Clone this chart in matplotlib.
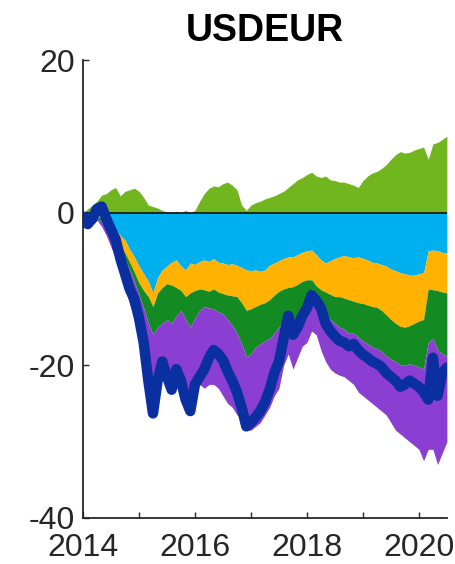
import numpy as np
import matplotlib
matplotlib.use("Agg")
import matplotlib.pyplot as plt

plt.rcParams['font.family'] = ['Liberation Sans', 'DejaVu Sans']
plt.rcParams['axes.unicode_minus'] = False

# monthly points, Jan 2014 .. Jul 2020
years = 2014 + np.arange(79) / 12.0

# positive contribution (top of green area)
green_top = [0.0, 0.5, 1.0, 1.5, 2.3, 2.5, 3.0, 3.3, 2.2, 2.8, 3.0, 3.2,
             2.8, 2.0, 1.0, 0.8, 0.6, 0.3, 0.1, 0.0, 0.2, 0.0, 0.3, 0.0,
             0.3, 1.5, 2.5, 3.2, 3.5, 3.4, 3.8, 4.0, 3.6, 3.0, 1.0, 0.3,
             1.0, 1.3, 1.5, 1.8, 2.0, 2.2, 2.5, 2.8, 3.3, 3.8, 4.3, 4.6,
             5.0, 5.3, 4.8, 4.6, 4.8, 4.3, 4.2, 4.0, 4.0, 3.8, 3.6, 3.3,
             4.2, 4.8, 5.2, 5.4, 5.8, 6.3, 7.0, 7.6, 8.0, 7.8, 7.9, 8.2,
             8.4, 8.6, 7.0, 9.0, 9.2, 9.6, 10.0]

# negative stack, lower edge of each band
cyan_lo = [-0.2, -0.4, -0.3, -0.2, -0.3, -1.0, -1.5, -2.2, -3.0, -3.6, -4.8, -5.8,
           -7.0, -8.0, -9.0, -10.5, -8.5, -7.5, -7.0, -6.5, -6.2, -7.0, -7.5, -6.6,
           -6.8, -6.4, -6.2, -6.4, -6.0, -6.5, -6.6, -6.8, -6.7, -6.9, -7.2, -7.5,
           -7.6, -7.5, -7.7, -7.5, -6.9, -6.6, -6.3, -6.0, -5.8, -5.8, -5.5, -5.2,
           -5.0, -4.9, -5.5, -6.2, -6.6, -6.3, -6.0, -5.8, -5.6, -5.8, -5.9, -5.8,
           -6.0, -6.2, -6.5, -6.6, -6.8, -7.0, -7.4, -7.6, -7.9, -8.0, -8.2, -8.2,
           -8.0, -7.9, -5.0, -4.9, -5.0, -5.2, -5.3]
orange_lo = [-0.4, -0.8, -0.6, -0.5, -0.7, -1.5, -2.2, -3.0, -4.2, -5.3, -6.5, -7.8,
             -9.2, -10.2, -11.0, -12.3, -10.5, -9.8, -9.3, -9.5, -9.8, -10.2, -11.0, -10.5,
             -10.2, -10.0, -10.1, -10.3, -10.0, -10.4, -10.6, -10.8, -10.9, -11.0, -11.8, -12.8,
             -12.6, -12.3, -12.0, -11.8, -11.4, -10.8, -10.3, -10.0, -9.8, -9.7, -9.4, -9.0,
             -8.8, -8.8, -9.6, -10.1, -10.4, -10.7, -11.0, -11.0, -11.2, -11.4, -11.6, -11.8,
             -11.9, -12.1, -12.3, -12.4, -12.8, -13.4, -14.0, -14.5, -14.9, -15.0, -14.8, -14.5,
             -14.2, -14.0, -10.0, -10.1, -10.2, -10.4, -10.5]
dgreen_lo = [-0.6, -1.2, -1.0, -0.8, -1.2, -2.0, -2.7, -3.6, -4.8, -6.0, -7.5, -9.0,
             -10.8, -12.5, -14.5, -16.0, -15.0, -14.5, -14.0, -14.5, -13.5, -12.8, -14.0, -15.0,
             -13.8, -12.8, -12.3, -12.5, -12.6, -13.0, -13.3, -14.0, -14.8, -15.8, -17.2, -18.9,
             -18.5, -17.6, -17.2, -16.8, -16.5, -15.8, -15.0, -14.1, -13.0, -14.5, -14.1, -12.5,
             -11.5, -10.0, -10.5, -11.5, -13.0, -14.0, -14.5, -15.0, -15.3, -15.8, -15.8, -16.3,
             -16.8, -17.2, -17.6, -17.8, -18.2, -18.8, -19.2, -19.5, -20.0, -20.0, -19.8, -20.0,
             -20.2, -20.5, -17.0, -16.5, -18.0, -18.5, -18.8]
purple_lo = [-0.8, -1.8, -1.5, -1.0, -1.8, -3.0, -4.5, -6.0, -8.0, -10.0, -12.0, -13.8,
             -15.8, -18.5, -22.5, -26.8, -22.8, -20.0, -22.0, -23.6, -21.0, -22.5, -25.0, -26.5,
             -23.0, -22.5, -23.0, -22.5, -22.5, -23.0, -24.0, -25.0, -25.5, -26.5, -26.8, -28.5,
             -28.5, -28.0, -27.5, -26.5, -25.5, -24.0, -23.0, -20.0, -18.5, -20.5, -19.0, -17.5,
             -17.0, -15.5, -16.0, -18.0, -19.5, -20.5, -21.0, -21.3, -21.5, -22.0, -22.5, -23.5,
             -24.0, -24.5, -25.0, -25.5, -26.0, -26.5, -27.5, -28.5, -29.0, -29.5, -30.0, -30.5,
             -31.0, -32.5, -31.0, -31.0, -33.0, -31.5, -30.0]

# total (blue line)
total = [-0.5, -1.5, -0.8, 0.5, 0.8, -0.8, -2.2, -3.5, -6.0, -8.0, -10.0, -11.3,
         -13.8, -17.0, -22.0, -26.3, -22.0, -19.5, -21.5, -23.2, -20.5, -22.0, -24.5, -26.0,
         -22.5, -21.5, -20.5, -19.0, -18.0, -18.5, -19.3, -20.8, -22.0, -23.5, -25.5, -28.0,
         -27.5, -26.8, -26.0, -24.8, -23.2, -21.0, -19.5, -16.5, -13.5, -16.0, -15.0, -13.5,
         -12.5, -10.8, -11.5, -12.5, -14.5, -15.5, -16.2, -16.8, -17.0, -17.5, -17.2, -18.0,
         -18.6, -19.0, -19.5, -19.8, -20.2, -21.0, -21.5, -22.0, -22.8, -22.5, -22.0, -22.4,
         -22.8, -23.5, -24.5, -19.0, -24.0, -21.0, -20.3]

xticks = [2014, 2015, 2016, 2017, 2018, 2019, 2020]
xticklabels = ['2014', '', '2016', '', '2018', '', '2020']
yticks = [-40, -20, 0, 20]

fig = plt.figure(figsize=(4.56, 5.64), dpi=100)
ax = fig.add_axes([0.182, 0.0816, 0.798, 0.812])

zero = np.zeros(len(years))
ax.fill_between(years, zero, green_top, color='#72B61F', lw=0)
ax.fill_between(years, zero, cyan_lo, color='#00B0EE', lw=0)
ax.fill_between(years, cyan_lo, orange_lo, color='#FFB300', lw=0)
ax.fill_between(years, orange_lo, dgreen_lo, color='#148A22', lw=0)
ax.fill_between(years, dgreen_lo, purple_lo, color='#8A3FD2', lw=0)
ax.plot([2014, 2020.5], [0, 0], color='#1a1a1a', lw=1.3)
ax.plot(years, total, color='#0A2FA0', lw=7.5, solid_capstyle='round',
        solid_joinstyle='round')

ax.set_xlim(2014, 2020.5)
ax.set_ylim(-40, 20)
ax.set_xticks(xticks)
ax.set_xticklabels(xticklabels)
ax.set_yticks(yticks)
ax.tick_params(direction='in', length=4, width=1, colors='#262626',
               labelsize=23)
ax.tick_params(axis='x', pad=11)
ax.tick_params(axis='y', pad=6)
for s in ['top', 'right']:
    ax.spines[s].set_visible(False)
for s in ['left', 'bottom']:
    ax.spines[s].set_linewidth(1.3)
    ax.spines[s].set_color('#262626')

ax.set_title('USDEUR', fontsize=27, fontweight='bold', pad=14)

fig.savefig('out.png', dpi=100)
